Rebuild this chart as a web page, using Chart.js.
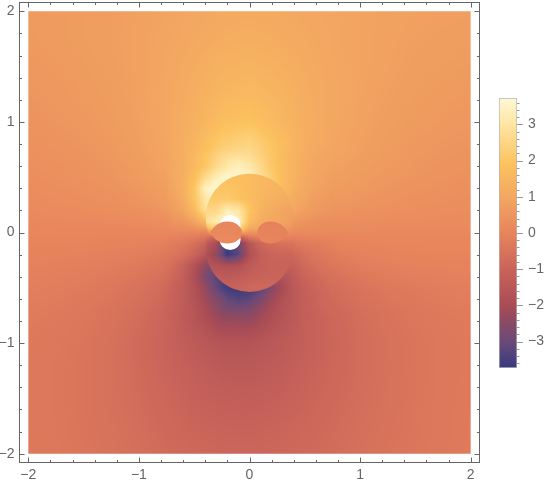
<!DOCTYPE html>
<html>
<head>
<meta charset="utf-8">
<script src="https://cdn.jsdelivr.net/npm/chart.js@4"></script>
<style>
  html, body { margin: 0; padding: 0; background: #fff; }
  #main { position: absolute; left: 0; top: 0; }
  #bar { position: absolute; left: 490px; top: 90px; }
</style>
</head>
<body>
<canvas id="main" width="550" height="483"></canvas>
<canvas id="bar" width="60" height="290"></canvas>
<script>
// tick labels
const axisTicks = [-2, -1, 0, 1, 2];
const barTicks = [-3, -2, -1, 0, 1, 2, 3];

// colour ramp
const rampValues = [-3.73, -3, -2.4, -2, -1, 0, 1, 1.9, 3, 3.73];
const rampColors = ['#37397f', '#6a4a78', '#8f4a62', '#a94c55', '#c9645a', '#e8845c', '#f3a761', '#fcc25f', '#fee5a3', '#fff9d6'];

// whole field, step 0.25, rows from y=2 down to y=-2, columns x=-2..2
const fieldX = [-2, -1.75, -1.5, -1.25, -1, -.75, -.5, -.25, 0, .25, .5, .75, 1, 1.25, 1.5, 1.75, 2];
const fieldY = [2, 1.75, 1.5, 1.25, 1, .75, .5, .25, 0, -.25, -.5, -.75, -1, -1.25, -1.5, -1.75, -2];
const fieldValues = [
  [.62, .66, .70, .75, .82, .90, 1.00, 1.08, 1.12, 1.08, 1.02, .96, .90, .85, .82, .78, .76],
  [.60, .64, .70, .76, .84, .94, 1.06, 1.18, 1.24, 1.18, 1.08, .98, .90, .84, .78, .74, .72],
  [.56, .60, .66, .74, .84, .98, 1.16, 1.34, 1.40, 1.30, 1.14, 1.00, .90, .82, .74, .70, .66],
  [.50, .55, .62, .70, .84, 1.00, 1.24, 1.50, 1.60, 1.45, 1.22, 1.02, .88, .78, .70, .64, .60],
  [.44, .50, .56, .66, .80, 1.00, 1.32, 1.75, 1.90, 1.58, 1.24, 1.02, .85, .73, .64, .58, .54],
  [.36, .42, .48, .58, .74, .98, 1.50, 2.30, 2.60, 1.90, 1.25, .95, .80, .66, .56, .50, .46],
  [.28, .33, .40, .48, .64, .85, 1.75, 3.40, 3.40, 2.30, 1.10, .78, .66, .56, .48, .42, .38],
  [.18, .22, .26, .32, .43, .62, 1.60, 3.00, 3.00, 2.00, .85, .55, .48, .40, .34, .30, .26],
  [.06, .06, .06, .06, .06, .08, .05, .30, .50, .40, .14, .13, .12, .12, .12, .12, .12],
  [-.06, -.09, -.13, -.18, -.26, -.42, -1.20, -3.0, -2.0, -1.0, -.62, -.30, -.16, -.08, -.04, -.02, -.02],
  [-.18, -.22, -.28, -.38, -.55, -.80, -2.00, -3.6, -3.4, -2.2, -1.15, -.72, -.50, -.36, -.28, -.22, -.18],
  [-.28, -.32, -.40, -.52, -.72, -1.00, -1.60, -2.40, -2.45, -1.75, -1.20, -.90, -.68, -.52, -.40, -.32, -.28],
  [-.33, -.38, -.46, -.60, -.80, -1.05, -1.38, -1.65, -1.65, -1.45, -1.20, -.94, -.74, -.58, -.46, -.37, -.32],
  [-.35, -.40, -.48, -.60, -.78, -1.00, -1.22, -1.40, -1.42, -1.30, -1.10, -.90, -.72, -.58, -.46, -.37, -.32],
  [-.35, -.40, -.48, -.60, -.75, -.92, -1.10, -1.22, -1.25, -1.16, -1.00, -.84, -.70, -.56, -.45, -.36, -.31],
  [-.34, -.39, -.47, -.57, -.70, -.85, -.98, -1.06, -1.08, -1.00, -.90, -.78, -.65, -.54, -.44, -.36, -.30],
  [-.33, -.38, -.45, -.54, -.65, -.77, -.87, -.93, -.95, -.90, -.82, -.72, -.60, -.50, -.42, -.35, -.29]
];

// field close to the centre, step 0.1
const nearX = [-.8, -.7, -.6, -.5, -.4, -.3, -.2, -.1, 0, .1, .2, .3, .4, .5, .6, .7, .8];
const nearY = [.8, .7, .6, .5, .4, .3, .2, .1, 0, -.1, -.2, -.3, -.4, -.5, -.6, -.7, -.8];
const nearValues = [
  [.95, 1.05, 1.2, 1.45, 1.8, 2.1, 2.35, 2.45, 2.35, 2.1, 1.8, 1.5, 1.3, 1.15, 1.02, .95, .9],
  [.95, 1.05, 1.25, 1.55, 1.95, 2.35, 2.7, 2.85, 2.7, 2.35, 1.95, 1.6, 1.35, 1.15, 1.0, .92, .86],
  [.92, 1.02, 1.25, 1.6, 2.0, 2.6, 3.1, 3.35, 3.1, 2.6, 2.05, 1.7, 1.4, 1.15, .98, .88, .8],
  [.88, 1.0, 1.3, 1.75, 2.6, 3.3, 3.6, 3.6, 3.4, 2.9, 2.2, 1.7, 1.4, 1.1, .92, .8, .72],
  [.8, .92, 1.3, 2.0, 3.4, 3.7, 3.7, 3.7, 3.5, 2.9, 2.2, 1.7, 1.3, 1.05, .85, .72, .65],
  [.72, .82, 1.15, 1.95, 3.0, 3.7, 3.7, 3.7, 3.5, 2.9, 2.2, 1.6, 1.15, .95, .72, .6, .55],
  [.6, .68, .95, 1.6, 2.8, 3.7, 3.7, 3.6, 3.2, 2.6, 2.0, 1.4, 1.0, .78, .62, .52, .46],
  [.35, .42, .55, .9, 1.6, 3.0, 3.7, 3.0, 2.2, 1.6, 1.2, .85, .6, .45, .35, .3, .28],
  [.1, .1, .08, .05, 0, .1, .4, .7, .6, .5, .4, .25, .15, .14, .14, .13, .12],
  [-.2, -.25, -.35, -.6, -1.0, -2.0, -3.7, -2.9, -1.5, -1.0, -.75, -.6, -.45, -.3, -.22, -.18, -.15],
  [-.35, -.42, -.6, -.95, -1.55, -2.6, -3.7, -3.2, -2.2, -1.5, -1.2, -1.0, -.85, -.6, -.42, -.33, -.28],
  [-.55, -.7, -1.05, -1.7, -2.4, -3.0, -3.7, -3.4, -2.6, -1.9, -1.5, -1.3, -1.1, -.8, -.6, -.48, -.4],
  [-.7, -.85, -1.2, -1.85, -2.7, -3.2, -3.6, -3.6, -3.2, -2.6, -2.0, -1.7, -1.35, -1.0, -.8, -.65, -.52],
  [-.85, -1.0, -1.3, -1.75, -2.3, -3.1, -3.6, -3.7, -3.6, -3.2, -2.6, -2.0, -1.45, -1.15, -.95, -.78, -.65],
  [-1.0, -1.1, -1.3, -1.7, -2.15, -2.6, -3.1, -3.3, -3.2, -2.8, -2.2, -1.8, -1.45, -1.2, -1.0, -.85, -.72],
  [-1.02, -1.12, -1.3, -1.55, -1.95, -2.35, -2.7, -2.8, -2.65, -2.3, -1.95, -1.65, -1.4, -1.2, -1.02, -.88, -.76],
  [-1.02, -1.1, -1.25, -1.45, -1.75, -2.0, -2.25, -2.35, -2.25, -2.05, -1.75, -1.5, -1.32, -1.15, -1.0, -.88, -.78]
];

// inside the two big discs, rows tighten around y=0
const discX = [-.4, -.3, -.2, -.1, 0, .1, .2, .3, .4];
const discY = [.6, .5, .4, .3, .2, .1, .04, 0, -.04, -.1, -.2, -.3, -.4, -.5, -.6];
const discValues = [
  [2.0, 1.95, 1.85, 1.75, 1.7, 1.6, 1.5, 1.35, 1.2],
  [2.0, 1.95, 1.85, 1.75, 1.7, 1.6, 1.5, 1.35, 1.2],
  [2.0, 1.95, 1.95, 1.85, 1.7, 1.55, 1.45, 1.3, 1.15],
  [2.1, 2.1, 2.15, 1.95, 1.7, 1.5, 1.35, 1.2, 1.05],
  [2.5, 2.6, 3.3, 3.0, 2.0, 1.4, 1.15, .95, .8],
  [2.8, 3.2, 3.7, 3.5, 1.7, 1.2, 1.05, .9, .7],
  [1.6, 2.4, 3.3, 2.6, 1.2, .95, .8, .65, .5],
  [.3, .6, .9, 1.0, .4, .5, .4, .3, .2],
  [-.5, -1.0, -1.8, -1.2, -.3, -.1, -.05, -.05, -.05],
  [-1.3, -2.0, -3.7, -3.0, -1.6, -.9, -.7, -.55, -.5],
  [-1.7, -2.4, -3.7, -3.2, -1.8, -1.2, -1.0, -.95, -.9],
  [-1.6, -1.7, -1.85, -1.8, -1.4, -1.15, -1.05, -1.05, -1.0],
  [-1.4, -1.35, -1.35, -1.3, -1.15, -1.05, -1.0, -1.0, -1.0],
  [-1.15, -1.1, -1.1, -1.0, -.88, -.85, -.85, -.9, -.9],
  [-1.15, -1.1, -1.1, -1.0, -.88, -.85, -.85, -.9, -.9]
];

// the two small lens shaped patches
const lensX = [-.4, -.2, 0, .2, .4];
const lensY = [.1, 0, -.1];
const lensValues = [
  [.08, .05, 0, -.1, -.1],
  [.12, .12, .05, -.05, -.03],
  [.18, .2, .1, .02, 0]
];

const plotHalf = 2.08;
const barHalf = 3.73;
const frameColor = '#666666';
const textColor = '#666666';
const fontSpec = { family: '"Liberation Sans", Arial, sans-serif', size: 14 };

function hexRgb(h) {
  return [parseInt(h.slice(1, 3), 16), parseInt(h.slice(3, 5), 16), parseInt(h.slice(5, 7), 16)];
}
const rampRgb = rampColors.map(hexRgb);

function rampColor(v) {
  if (v <= rampValues[0]) return rampRgb[0];
  for (let i = 1; i < rampValues.length; i++) {
    if (v <= rampValues[i]) {
      const t = (v - rampValues[i - 1]) / (rampValues[i] - rampValues[i - 1]);
      const a = rampRgb[i - 1], b = rampRgb[i];
      return [a[0] + (b[0] - a[0]) * t, a[1] + (b[1] - a[1]) * t, a[2] + (b[2] - a[2]) * t];
    }
  }
  return rampRgb[rampRgb.length - 1];
}

function cellIndex(list, v) {
  // list may run up or down
  const up = list[1] > list[0];
  for (let i = 0; i < list.length - 1; i++) {
    if (up ? v <= list[i + 1] : v >= list[i + 1]) return i;
  }
  return list.length - 2;
}

function sample(layer, x, y) {
  const i = cellIndex(layer.xs, x), j = cellIndex(layer.ys, y);
  const tx = Math.min(1, Math.max(0, (x - layer.xs[i]) / (layer.xs[i + 1] - layer.xs[i])));
  const ty = Math.min(1, Math.max(0, (y - layer.ys[j]) / (layer.ys[j + 1] - layer.ys[j])));
  const v = layer.vals;
  return v[j][i] * (1 - tx) * (1 - ty) + v[j][i + 1] * tx * (1 - ty) + v[j + 1][i] * (1 - tx) * ty + v[j + 1][i + 1] * tx * ty;
}

function paintLayer(chart, layer, feather, clipFn) {
  const sx = chart.scales.x, sy = chart.scales.y;
  const x0 = Math.floor(sx.getPixelForValue(layer.xs[0]));
  const x1 = Math.ceil(sx.getPixelForValue(layer.xs[layer.xs.length - 1]));
  const y0 = Math.floor(sy.getPixelForValue(layer.ys[0]));
  const y1 = Math.ceil(sy.getPixelForValue(layer.ys[layer.ys.length - 1]));
  const w = x1 - x0, h = y1 - y0;
  const off = document.createElement('canvas');
  off.width = w; off.height = h;
  const octx = off.getContext('2d');
  const img = octx.createImageData(w, h);
  const xMin = layer.xs[0], xMax = layer.xs[layer.xs.length - 1];
  const yMax = layer.ys[0], yMin = layer.ys[layer.ys.length - 1];
  for (let py = 0; py < h; py++) {
    const y = sy.getValueForPixel(y0 + py + .5);
    for (let px = 0; px < w; px++) {
      const x = sx.getValueForPixel(x0 + px + .5);
      const c = rampColor(sample(layer, x, y));
      const k = (py * w + px) * 4;
      let a = 1;
      if (feather) {
        const d = Math.min(x - xMin, xMax - x, y - yMin, yMax - y);
        a = Math.max(0, Math.min(1, d / feather));
      }
      img.data[k] = c[0]; img.data[k + 1] = c[1]; img.data[k + 2] = c[2]; img.data[k + 3] = a * 255;
    }
  }
  octx.putImageData(img, 0, 0);
  const ctx = chart.ctx;
  ctx.save();
  if (clipFn) {
    ctx.beginPath();
    clipFn(ctx, sx, sy);
    ctx.clip();
  } else {
    const lx = sx.getPixelForValue(xMin), rx = sx.getPixelForValue(xMax);
    const ty = sy.getPixelForValue(yMax), by = sy.getPixelForValue(yMin);
    ctx.beginPath();
    ctx.rect(lx, ty, rx - lx, by - ty);
    ctx.clip();
  }
  ctx.drawImage(off, x0, y0);
  ctx.restore();
}

function circlePath(ctx, sx, sy, cx, cy, r) {
  const px = sx.getPixelForValue(cx), py = sy.getPixelForValue(cy);
  const pr = sx.getPixelForValue(cx + r) - px;
  ctx.moveTo(px + pr, py);
  ctx.arc(px, py, pr, 0, Math.PI * 2);
}

function lensPath(ctx, sx, sy, tip, mid, end) {
  // pointed at the disc crossing, round on the inner end
  const X = v => sx.getPixelForValue(v), Y = v => sy.getPixelForValue(v);
  ctx.moveTo(X(tip), Y(0));
  ctx.bezierCurveTo(X(tip + (mid - tip) * .2), Y(.06), X(mid - (mid - tip) * .45), Y(.1), X(mid), Y(.1));
  ctx.bezierCurveTo(X(mid + (end - mid) * .55), Y(.1), X(end), Y(.055), X(end), Y(0));
  ctx.bezierCurveTo(X(end), Y(-.055), X(mid + (end - mid) * .55), Y(-.1), X(mid), Y(-.1));
  ctx.bezierCurveTo(X(mid - (mid - tip) * .45), Y(-.1), X(tip + (mid - tip) * .2), Y(-.06), X(tip), Y(0));
}

const densityPlugin = {
  id: 'density',
  beforeDatasetsDraw(chart) {
    const ctx = chart.ctx;
    const field = { xs: fieldX, ys: fieldY, vals: fieldValues };
    const near = { xs: nearX, ys: nearY, vals: nearValues };
    const disc = { xs: discX, ys: discY, vals: discValues };
    const lens = { xs: lensX, ys: lensY, vals: lensValues };
    paintLayer(chart, field, 0, null);
    paintLayer(chart, near, .15, null);
    paintLayer(chart, disc, 0, (c, sx, sy) => {
      circlePath(c, sx, sy, 0, .135, .397);
      circlePath(c, sx, sy, 0, -.14, .397);
    });
    ctx.save();
    ctx.fillStyle = '#fff';
    ctx.beginPath();
    circlePath(ctx, chart.scales.x, chart.scales.y, -.175, .063, .095);
    circlePath(ctx, chart.scales.x, chart.scales.y, -.175, -.063, .095);
    ctx.fill();
    ctx.restore();
    paintLayer(chart, lens, 0, (c, sx, sy) => {
      lensPath(c, sx, sy, -.355, -.2, -.068);
      lensPath(c, sx, sy, .352, .185, .07);
    });
  },
  afterDraw(chart) {
    const ctx = chart.ctx, a = chart.chartArea;
    const sx = chart.scales.x, sy = chart.scales.y;
    ctx.save();
    ctx.strokeStyle = frameColor;
    ctx.lineWidth = 1;
    ctx.strokeRect(a.left, a.top, a.right - a.left, a.bottom - a.top);
    ctx.beginPath();
    for (let i = -10; i <= 10; i++) {
      const len = i % 5 === 0 ? 5 : 2.5;
      const px = Math.round(sx.getPixelForValue(i / 5)) + .5;
      const py = Math.round(sy.getPixelForValue(i / 5)) + .5;
      ctx.moveTo(px, a.bottom); ctx.lineTo(px, a.bottom - len);
      ctx.moveTo(px, a.top); ctx.lineTo(px, a.top + len);
      ctx.moveTo(a.left, py); ctx.lineTo(a.left + len, py);
      ctx.moveTo(a.right, py); ctx.lineTo(a.right - len, py);
    }
    ctx.stroke();
    ctx.restore();
  }
};

function minusLabel(v) {
  return String(v).replace('-', '\u2212');
}

function fieldPoints(xs, ys, vals) {
  const pts = [];
  ys.forEach((y, j) => xs.forEach((x, i) => pts.push({ x: x, y: y, v: vals[j][i] })));
  return pts;
}

new Chart(document.getElementById('main'), {
  type: 'scatter',
  data: {
    datasets: [
      { label: 'field', data: fieldPoints(fieldX, fieldY, fieldValues), pointRadius: 0 },
      { label: 'near', data: fieldPoints(nearX, nearY, nearValues), pointRadius: 0 },
      { label: 'disc', data: fieldPoints(discX, discY, discValues), pointRadius: 0 },
      { label: 'lens', data: fieldPoints(lensX, lensY, lensValues), pointRadius: 0 }
    ]
  },
  plugins: [densityPlugin],
  options: {
    responsive: false,
    animation: false,
    layout: { autoPadding: false, padding: { top: 2.5, right: 70.5, left: 0, bottom: 0 } },
    plugins: { legend: { display: false }, tooltip: { enabled: false } },
    scales: {
      x: {
        type: 'linear',
        min: -plotHalf,
        max: plotHalf,
        grid: { display: false, drawTicks: false },
        border: { display: false },
        afterBuildTicks: s => { s.ticks = axisTicks.map(v => ({ value: v })); },
        afterFit: s => { s.height = 20.5; s.paddingLeft = 0; s.paddingRight = 0; },
        ticks: { color: textColor, font: fontSpec, padding: 4, maxRotation: 0, autoSkip: false, callback: minusLabel }
      },
      y: {
        type: 'linear',
        min: -plotHalf,
        max: plotHalf,
        grid: { display: false, drawTicks: false },
        border: { display: false },
        afterBuildTicks: s => { s.ticks = axisTicks.map(v => ({ value: v })); },
        afterFit: s => { s.width = 19.5; s.paddingTop = 0; s.paddingBottom = 0; },
        ticks: { color: textColor, font: fontSpec, padding: 5, autoSkip: false, callback: minusLabel }
      }
    }
  }
});

const barTickPlugin = {
  id: 'barTicks',
  afterDraw(chart) {
    const ctx = chart.ctx, a = chart.chartArea, sy = chart.scales.y;
    ctx.save();
    ctx.strokeStyle = '#999999';
    ctx.lineWidth = 1;
    ctx.beginPath();
    for (let i = -18; i <= 18; i++) {
      const py = Math.round(sy.getPixelForValue(i / 5)) + .5;
      ctx.moveTo(a.right, py);
      ctx.lineTo(a.right + (i % 5 === 0 ? 6 : 2.5), py);
    }
    ctx.stroke();
    ctx.restore();
  }
};

new Chart(document.getElementById('bar'), {
  type: 'bar',
  data: {
    labels: ['legend'],
    datasets: [{
      data: [[-barHalf, barHalf]],
      barPercentage: 1,
      categoryPercentage: 1,
      borderWidth: 1,
      borderColor: '#b5b5b5',
      borderSkipped: false,
      backgroundColor: c => {
        const area = c.chart.chartArea;
        if (!area) return '#e8845c';
        const g = c.chart.ctx.createLinearGradient(0, area.bottom, 0, area.top);
        rampValues.forEach((v, i) => g.addColorStop((v + barHalf) / (2 * barHalf), rampColors[i]));
        return g;
      }
    }]
  },
  plugins: [barTickPlugin],
  options: {
    responsive: false,
    animation: false,
    layout: { autoPadding: false, padding: { left: 9, top: 8, bottom: 12, right: 0 } },
    plugins: { legend: { display: false }, tooltip: { enabled: false } },
    scales: {
      x: { display: false },
      y: {
        position: 'right',
        min: -barHalf,
        max: barHalf,
        grid: { display: false, drawTicks: false },
        border: { display: false },
        afterBuildTicks: s => { s.ticks = barTicks.map(v => ({ value: v })); },
        afterFit: s => { s.width = 33; s.paddingTop = 0; s.paddingBottom = 0; },
        ticks: { color: textColor, font: fontSpec, padding: 11, autoSkip: false, callback: minusLabel }
      }
    }
  }
});
</script>
</body>
</html>
